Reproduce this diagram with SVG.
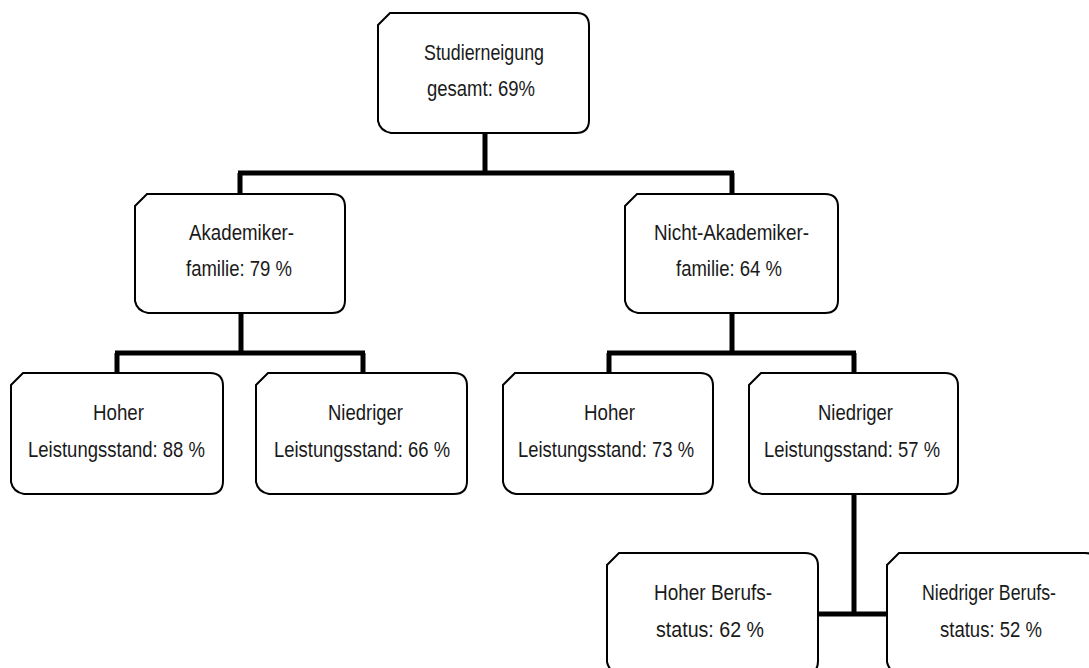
<svg xmlns="http://www.w3.org/2000/svg" width="1089" height="668" viewBox="0 0 1089 668" xml:space="preserve">
<style>
.box{fill:#fff;stroke:#000;stroke-width:2}
.lbl{font-family:"Liberation Sans Narrow","Liberation Sans",Arial,sans-serif;font-size:22.5px;fill:#1a1a1a}
.con{fill:none;stroke:#000;stroke-width:5;stroke-linecap:butt}
</style>
<rect width="1089" height="668" fill="#fff"/>
<g id="connectors">
<path class="con" d="M485 133V173M238 173H734M240 173V194M732 173V194"/>
<path class="con" d="M241 313V353M115 353H365M117 353V373M363 353V373"/>
<path class="con" d="M732 313V353M607 353H856M609 353V373M854 353V373"/>
<path class="con" d="M854 494V614M817 614H888"/>
</g>
<g id="n-root">
<path class="box" d="M378 25L390 13H577Q589 13 589 26V120Q589 133 576 133H391Q380 131 378 121Z"/>
<text class="lbl" x="424" y="60" textLength="120" lengthAdjust="spacingAndGlyphs">Studierneigung</text>
<text class="lbl" x="427" y="96" textLength="108" lengthAdjust="spacingAndGlyphs">gesamt: 69%</text>
</g>
<g id="n-akad">
<path class="box" d="M135 206L147 194H332Q345 194 345 207V300Q345 313 332 313H148Q137 311 135 301Z"/>
<text class="lbl" x="189" y="240" textLength="105" lengthAdjust="spacingAndGlyphs">Akademiker-</text>
<text class="lbl" x="186" y="276" textLength="106" lengthAdjust="spacingAndGlyphs">familie: 79 %</text>
</g>
<g id="n-nicht">
<path class="box" d="M625 206L637 194H825Q838 194 838 207V300Q838 313 825 313H638Q627 311 625 301Z"/>
<text class="lbl" x="654" y="240" textLength="155" lengthAdjust="spacingAndGlyphs">Nicht-Akademiker-</text>
<text class="lbl" x="676" y="276" textLength="106" lengthAdjust="spacingAndGlyphs">familie: 64 %</text>
</g>
<g id="n-akad-hoch">
<path class="box" d="M11 385L23 373H210Q223 373 223 386V481Q223 494 210 494H24Q13 492 11 482Z"/>
<text class="lbl" x="93" y="420" textLength="51" lengthAdjust="spacingAndGlyphs">Hoher</text>
<text class="lbl" x="28" y="457" textLength="177" lengthAdjust="spacingAndGlyphs">Leistungsstand: 88 %</text>
</g>
<g id="n-akad-niedrig">
<path class="box" d="M256 385L268 373H454Q467 373 467 386V481Q467 494 454 494H269Q258 492 256 482Z"/>
<text class="lbl" x="328" y="420" textLength="75" lengthAdjust="spacingAndGlyphs">Niedriger</text>
<text class="lbl" x="274" y="457" textLength="176" lengthAdjust="spacingAndGlyphs">Leistungsstand: 66 %</text>
</g>
<g id="n-nicht-hoch">
<path class="box" d="M503 385L515 373H700Q713 373 713 386V481Q713 494 700 494H516Q505 492 503 482Z"/>
<text class="lbl" x="584" y="420" textLength="51" lengthAdjust="spacingAndGlyphs">Hoher</text>
<text class="lbl" x="518" y="457" textLength="176" lengthAdjust="spacingAndGlyphs">Leistungsstand: 73 %</text>
</g>
<g id="n-nicht-niedrig">
<path class="box" d="M749 385L761 373H945Q958 373 958 386V481Q958 494 945 494H762Q751 492 749 482Z"/>
<text class="lbl" x="818" y="420" textLength="75" lengthAdjust="spacingAndGlyphs">Niedriger</text>
<text class="lbl" x="764" y="457" textLength="176" lengthAdjust="spacingAndGlyphs">Leistungsstand: 57 %</text>
</g>
<g id="n-beruf-hoch">
<path class="box" d="M607 565L619 553H805Q818 553 818 566V661Q818 674 805 674H620Q609 672 607 662Z"/>
<text class="lbl" x="654" y="600" textLength="118" lengthAdjust="spacingAndGlyphs">Hoher Berufs-</text>
<text class="lbl" x="656" y="637" textLength="108" lengthAdjust="spacingAndGlyphs">status:  62 %</text>
</g>
<g id="n-beruf-niedrig">
<path class="box" d="M887 565L899 553H1085Q1098 553 1098 566V661Q1098 674 1085 674H900Q889 672 887 662Z"/>
<text class="lbl" x="922" y="600" textLength="134" lengthAdjust="spacingAndGlyphs">Niedriger Berufs-</text>
<text class="lbl" x="940" y="637" textLength="102" lengthAdjust="spacingAndGlyphs">status: 52 %</text>
</g>
</svg>
